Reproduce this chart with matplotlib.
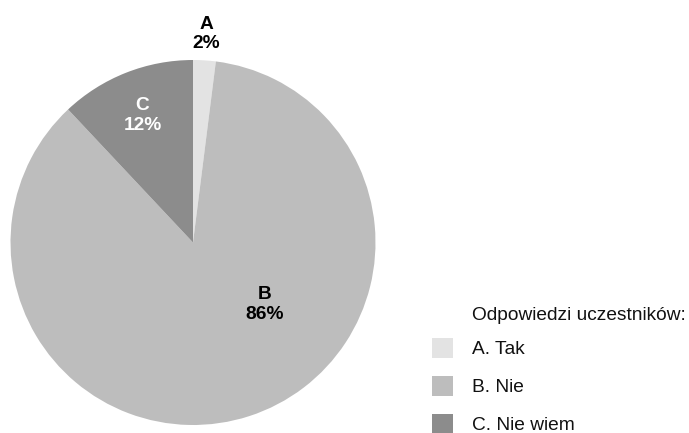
import numpy as np
import matplotlib
matplotlib.use("Agg")
import matplotlib.pyplot as plt
from matplotlib.patches import Rectangle

plt.rcParams['font.family'] = ['Liberation Sans', 'DejaVu Sans']

# Survey answers
categories = ["A", "B", "C"]
legend_labels = ["A. Tak", "B. Nie", "C. Nie wiem"]
shares = [2, 86, 12]
colors = ["#e3e3e3", "#bdbdbd", "#8c8c8c"]
legend_title = "Odpowiedzi uczestników:"

W, H = 689, 433
fig = plt.figure(figsize=(W / 100, H / 100), dpi=100)

# pie axes placed in pixel units
cx, cy, r = 193.0, 433 - 242.5, 182.5
ax = fig.add_axes([(cx - r) / W, (cy - r) / H, 2 * r / W, 2 * r / H])
wedges, _ = ax.pie(shares, colors=colors, startangle=90, counterclock=False,
                   radius=1.0, wedgeprops=dict(linewidth=0))
ax.set_xlim(-1, 1)
ax.set_ylim(-1, 1)
ax.set_aspect('equal')
for w in wedges:
    w.set_clip_on(False)

# value labels
label_pos = {"A": None, "B": (0.39, -0.34), "C": None}
label_dist = {"A": 1.145, "C": 0.75}
text_colors = {"A": "black", "B": "black", "C": "white"}
for w, cat, val in zip(wedges, categories, shares):
    if label_pos[cat] is None:
        ang = np.deg2rad((w.theta1 + w.theta2) / 2)
        d = label_dist[cat]
        x, y = d * np.cos(ang), d * np.sin(ang)
    else:
        x, y = label_pos[cat]
    ax.text(x, y, f"{cat}\n{val}%", ha="center", va="center",
            fontsize=13.8, fontweight="bold", color=text_colors[cat],
            linespacing=1.2, clip_on=False)

# legend
fig.text(472 / W, 1 - 315 / H, legend_title, ha="left", va="center",
         fontsize=13.8, color="#111111")
ys = [348, 386, 424]
for lab, col, yy in zip(legend_labels, colors, ys):
    fig.patches.append(Rectangle((432 / W, 1 - (yy + 10) / H), 21 / W, 20 / H,
                                 transform=fig.transFigure, facecolor=col,
                                 edgecolor="none"))
    fig.text(472 / W, 1 - (yy + 2) / H, lab, ha="left", va="center",
             fontsize=13.8, color="#111111")

fig.savefig("out.png", dpi=100)
